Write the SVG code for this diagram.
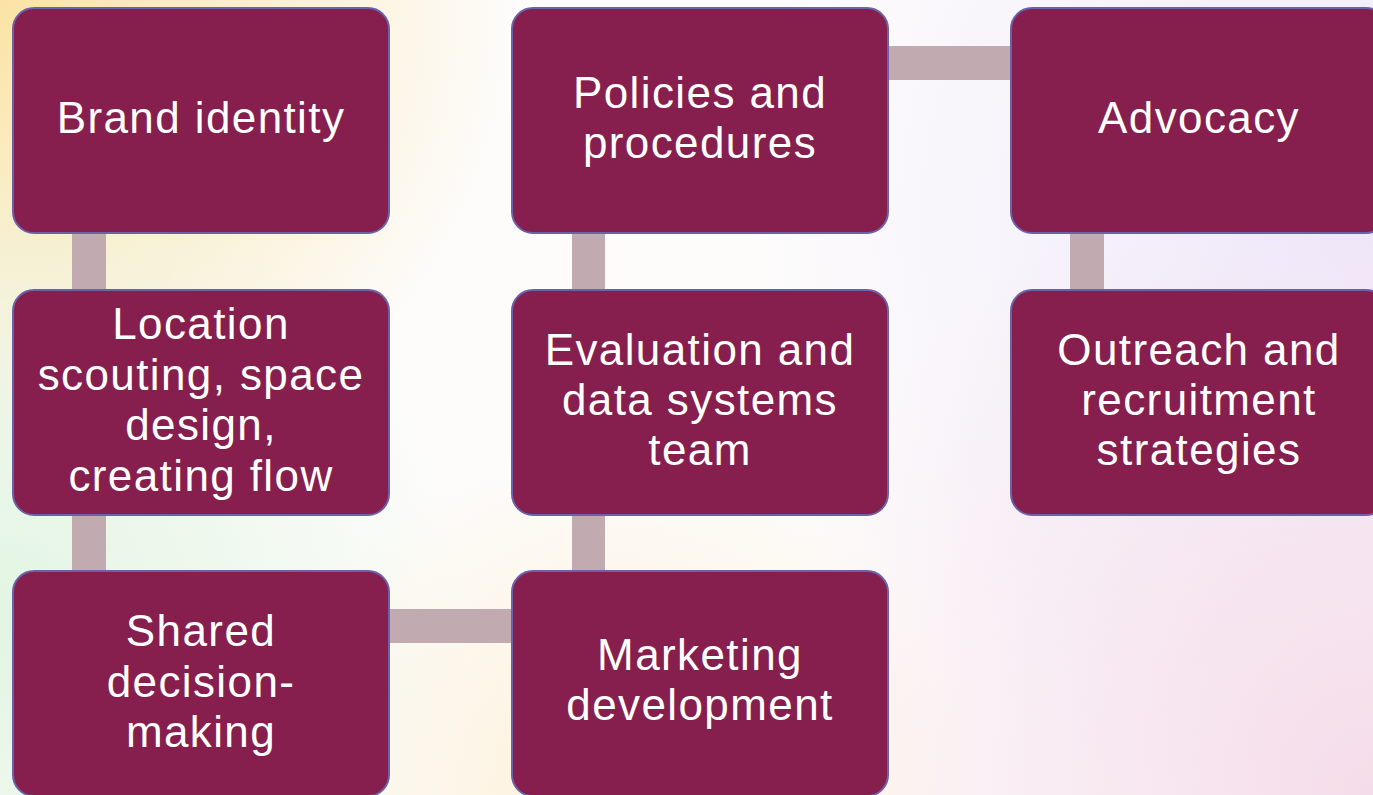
<svg xmlns="http://www.w3.org/2000/svg" width="1373" height="795" viewBox="0 0 1373 795">
<defs>
<radialGradient id="gY" cx="0" cy="0" r="520" gradientUnits="userSpaceOnUse"><stop offset="0" stop-color="#fae3a4"/><stop offset="1" stop-color="#fae3a4" stop-opacity="0"/></radialGradient>
<radialGradient id="gG" cx="0" cy="620" r="470" gradientUnits="userSpaceOnUse"><stop offset="0" stop-color="#e2f5e2"/><stop offset="1" stop-color="#e2f5e2" stop-opacity="0"/></radialGradient>
<radialGradient id="gL" cx="1373" cy="220" r="620" gradientUnits="userSpaceOnUse"><stop offset="0" stop-color="#eee8fb"/><stop offset="1" stop-color="#eee8fb" stop-opacity="0"/></radialGradient>
<radialGradient id="gP" cx="1373" cy="795" r="640" gradientUnits="userSpaceOnUse"><stop offset="0" stop-color="#f5dcea"/><stop offset="1" stop-color="#f5dcea" stop-opacity="0"/></radialGradient>
<radialGradient id="gC" cx="620" cy="795" r="360" gradientUnits="userSpaceOnUse"><stop offset="0" stop-color="#fdf0d8"/><stop offset="1" stop-color="#fdf0d8" stop-opacity="0"/></radialGradient>
</defs>
<style>
.box{fill:#861f4e;stroke:#6b63a9;stroke-width:2}
.con{fill:#c1aab0}
.t{font-family:"Liberation Sans",Arial,sans-serif;font-size:44px;letter-spacing:1.4px;fill:#ffffff;text-anchor:middle}
</style>
<g id="background">
<rect x="0" y="0" width="1373" height="795" fill="#fdfcfb"/>
<rect x="0" y="0" width="1373" height="795" fill="url(#gY)"/>
<rect x="0" y="0" width="1373" height="795" fill="url(#gG)"/>
<rect x="0" y="0" width="1373" height="795" fill="url(#gL)"/>
<rect x="0" y="0" width="1373" height="795" fill="url(#gP)"/>
<rect x="0" y="0" width="1373" height="795" fill="url(#gC)"/>
</g>
<g id="connectors">
<rect class="con" x="72" y="228" width="34" height="67"/>
<rect class="con" x="72" y="510" width="34" height="66"/>
<rect class="con" x="384" y="609" width="133" height="34"/>
<rect class="con" x="572" y="510" width="33" height="66"/>
<rect class="con" x="572" y="228" width="33" height="67"/>
<rect class="con" x="883" y="46" width="133" height="34"/>
<rect class="con" x="1070" y="228" width="34" height="67"/>
</g>
<g id="node-brand">
<rect class="box" x="13" y="8" width="376" height="225" rx="21"/>
<text class="t" x="201" y="133">Brand identity</text>
</g>
<g id="node-location">
<rect class="box" x="13" y="290" width="376" height="225" rx="21"/>
<text class="t"><tspan x="201" y="339">Location</tspan><tspan x="201" y="389.5">scouting, space</tspan><tspan x="201" y="440">design,</tspan><tspan x="201" y="490.5">creating flow</tspan></text>
</g>
<g id="node-shared">
<rect class="box" x="13" y="571" width="376" height="225" rx="21"/>
<text class="t"><tspan x="201" y="646">Shared</tspan><tspan x="201" y="696.5">decision-</tspan><tspan x="201" y="747">making</tspan></text>
</g>
<g id="node-marketing">
<rect class="box" x="512" y="571" width="376" height="225" rx="21"/>
<text class="t"><tspan x="700" y="670">Marketing</tspan><tspan x="700" y="720">development</tspan></text>
</g>
<g id="node-evaluation">
<rect class="box" x="512" y="290" width="376" height="225" rx="21"/>
<text class="t"><tspan x="700" y="365">Evaluation and</tspan><tspan x="700" y="415">data systems</tspan><tspan x="700" y="465">team</tspan></text>
</g>
<g id="node-policies">
<rect class="box" x="512" y="8" width="376" height="225" rx="21"/>
<text class="t"><tspan x="700" y="107.5">Policies and</tspan><tspan x="700" y="157.5">procedures</tspan></text>
</g>
<g id="node-advocacy">
<rect class="box" x="1011" y="8" width="376" height="225" rx="21"/>
<text class="t" x="1199" y="133">Advocacy</text>
</g>
<g id="node-outreach">
<rect class="box" x="1011" y="290" width="376" height="225" rx="21"/>
<text class="t"><tspan x="1199" y="365">Outreach and</tspan><tspan x="1199" y="415">recruitment</tspan><tspan x="1199" y="465">strategies</tspan></text>
</g>
</svg>
